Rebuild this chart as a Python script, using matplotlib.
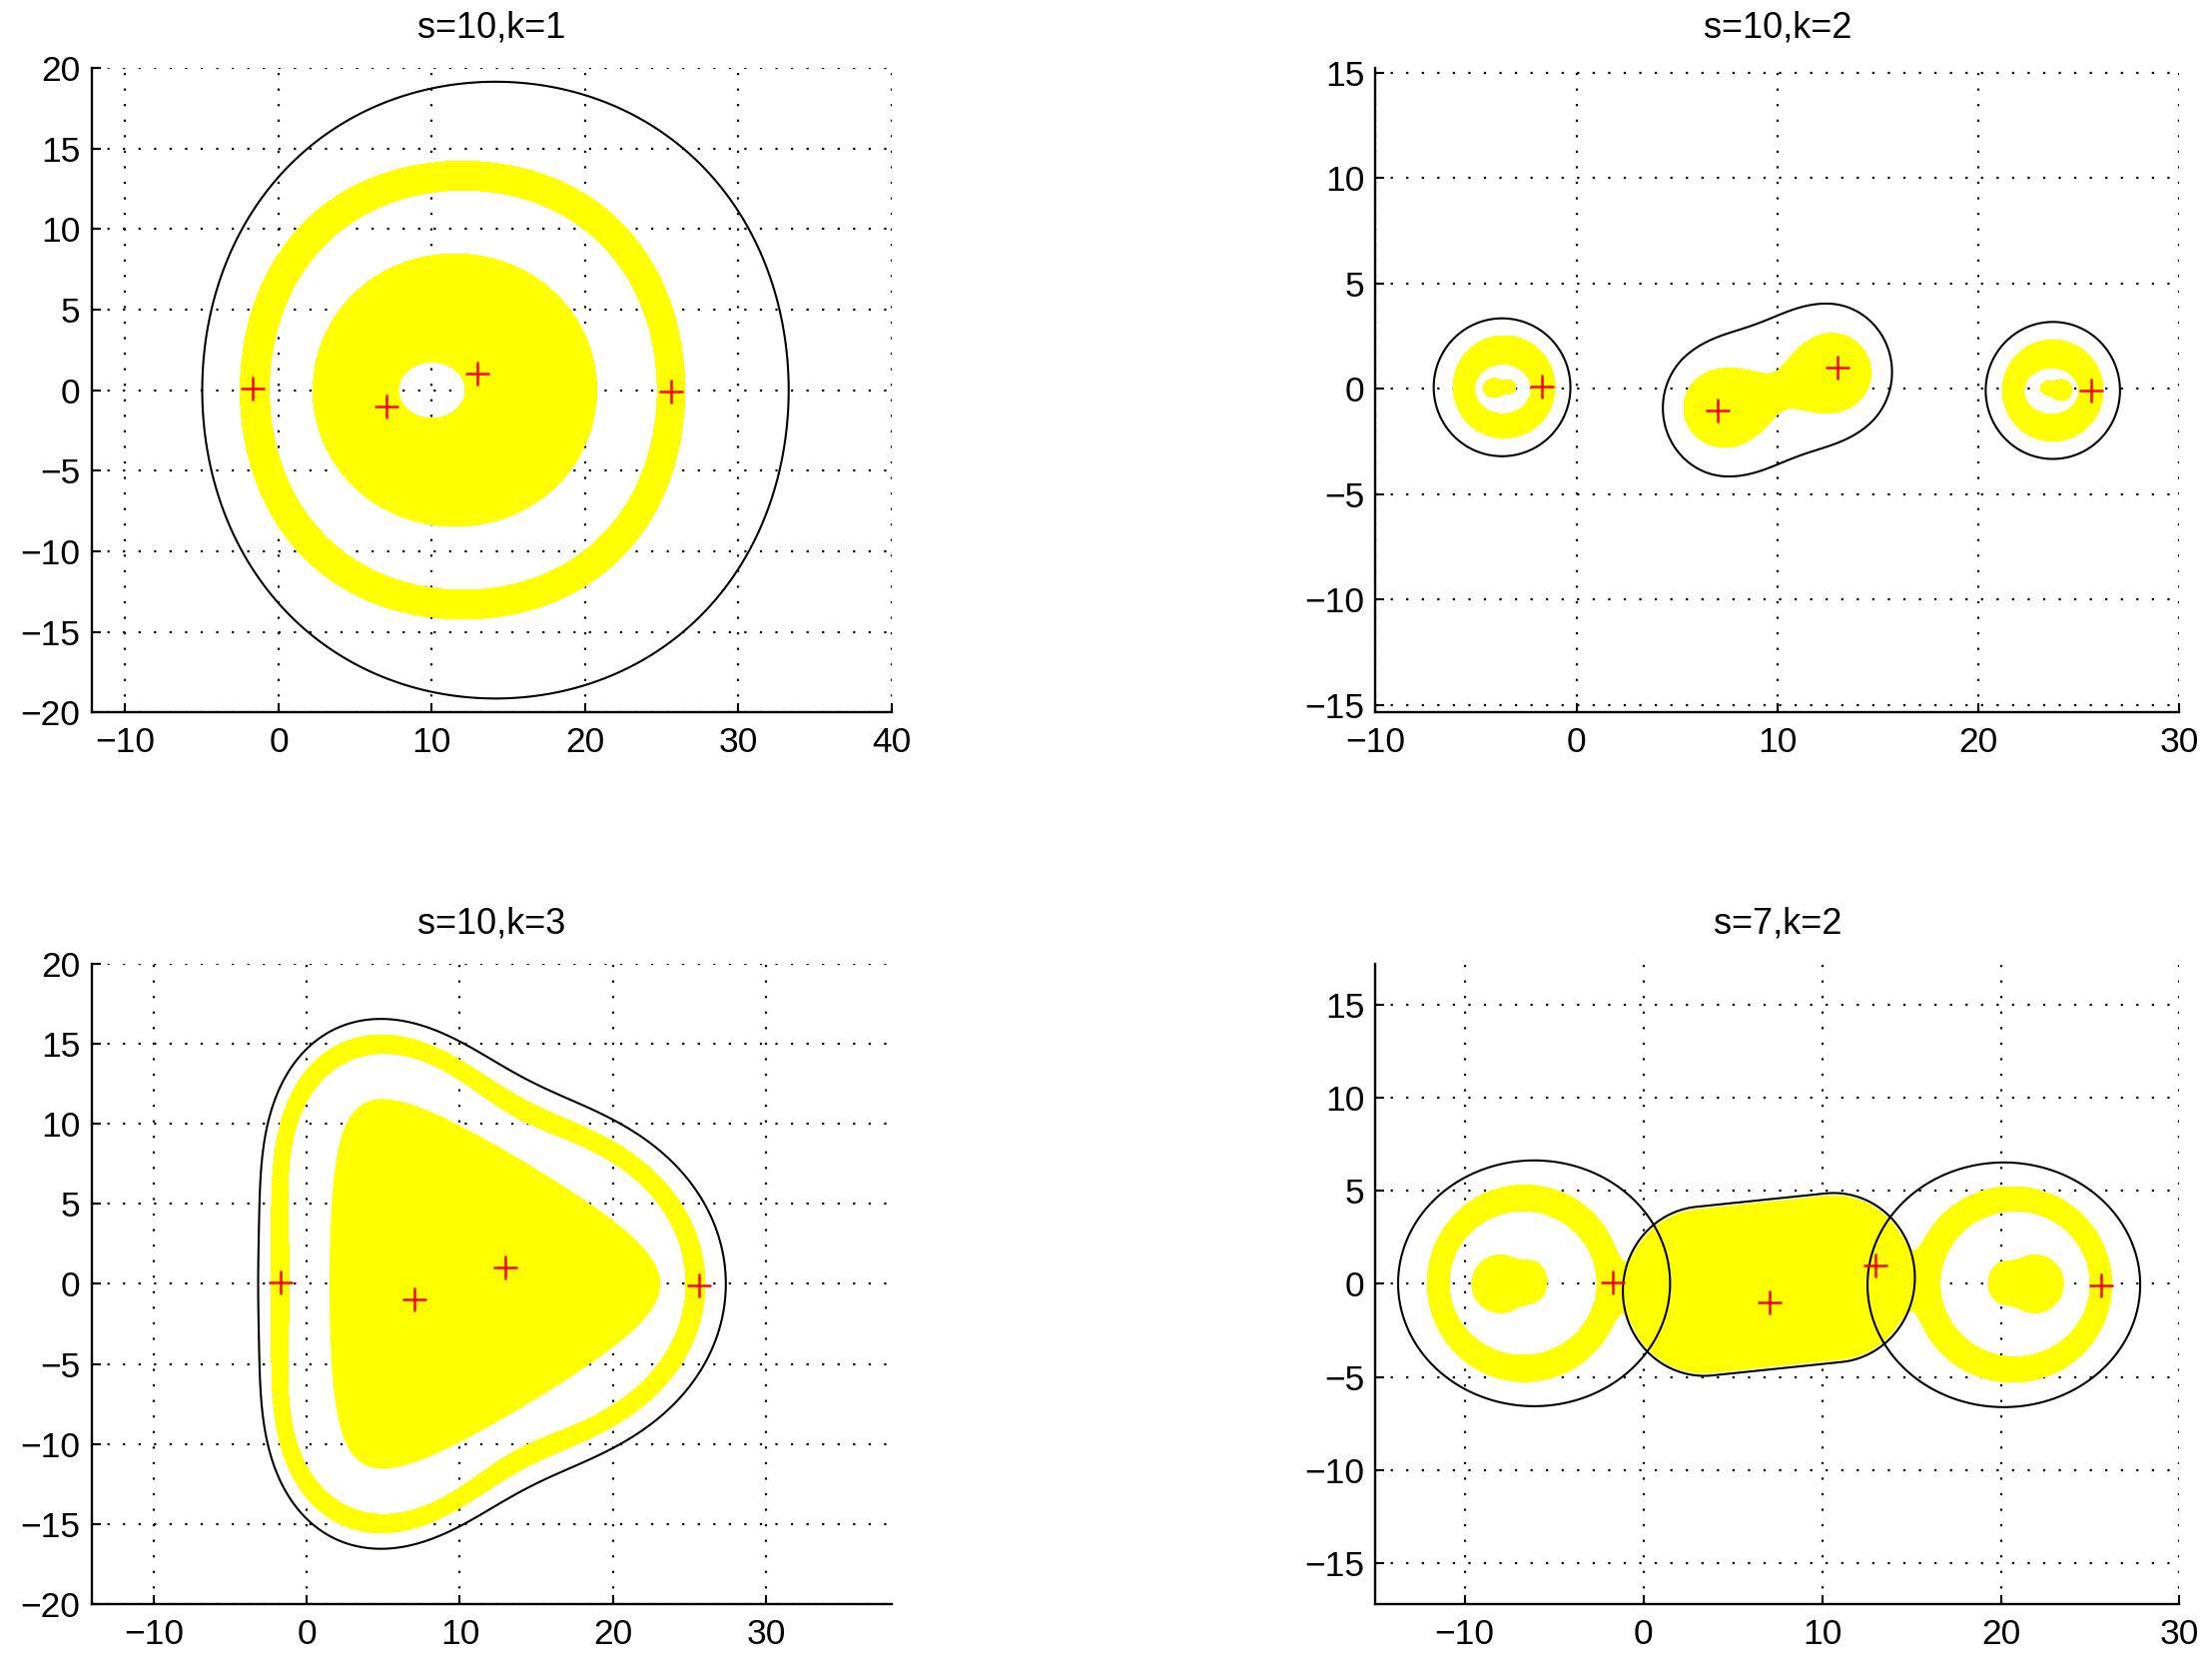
import numpy as np
import matplotlib.pyplot as plt

plt.rcParams['font.family'] = ['Liberation Sans', 'DejaVu Sans']

# ---- data ----
eig_re = [-1.7, 7.05, 13.0, 25.6]
eig_im = [0.1, -1.0, 1.0, -0.08]

titles = ['s=10,k=1', 's=10,k=2', 's=10,k=3', 's=7,k=2']
xlims = [(-12.2, 40), (-10, 30), (-14.05, 38.2), (-15, 30)]
ylims = [(-20, 20), (-15.35, 15.24), (-20, 20), (-17.2, 17.2)]
xticks = [np.arange(-10, 41, 10), np.arange(-10, 31, 10),
          np.arange(-10, 31, 10), np.arange(-10, 31, 10)]
yticks = [np.arange(-20, 21, 5), np.arange(-15, 16, 5),
          np.arange(-20, 21, 5), np.arange(-15, 16, 5)]

# shapes: polar = (cx, cy, cos-coefficients), ellipse = (cx, cy, rx, ry),
# capsule = (x1, y1, x2, y2, r)
# s=10, k=1
p1_black = (14.15, 0.0, [19.25, 0, 0, 0, -0.12])
p1_ring_out = (12.0, 0.0, [14.5, 0, 0.15, 0, -0.15])
p1_ring_in = (12.05, 0.0, [12.65, 0, 0.125, 0, -0.12])
p1_disk = (11.5, 0.0, [8.85, 0, 0.4])
p1_hole = (10.0, 0.0, 2.18, 1.75)

# s=10, k=2
p2_black_l = (-3.7, 0.08, 3.4, 3.27)
p2_black_r = (23.7, -0.07, 3.34, 3.25)
p2_black_m = [(7.55, -0.9, 3.25, 3.25), (12.45, 0.8, 3.25, 3.25)]
p2_out_l = (-3.6, 0.1, 2.53, 2.43)
p2_in_l = (-3.66, 0.0, 1.4, 1.18)
p2_blob_l = [(-4.1, 0.05, 0.53, 0.45), (-3.4, 0.1, 0.38, 0.33)]
p2_out_r = (23.7, -0.07, 2.5, 2.4)
p2_in_r = (23.63, -0.1, 1.37, 1.1)
p2_blob_r = [(24.1, -0.05, 0.55, 0.5), (23.45, 0.05, 0.36, 0.32)]
p2_lobes_m = [(7.4, -0.9, 2.06, 1.87), (12.7, 0.77, 1.95, 1.87)]

# s=10, k=3
p3_black = (9.0, 0.0, [15.387, 1.2025, -0.268, 2.167, 0.048, -0.27, 0.103])
p3_ring_out = (9.0, 0.0, [14.287, 0.9375, -0.268, 2.167, 0.048, -0.27, 0.103])
p3_ring_in = (9.0, 0.0, [13.087, 0.9025, -0.268, 2.167, 0.048, -0.27, 0.103])
# inner rounded triangle: centre, radius, second-term ratio, vertical scale
p3_tri = (10.13, 10.8, 0.2, 1.0)

# s=7, k=2
p4_black_l = (-6.12, 0.03, 7.61, 6.6)
p4_black_r = (20.17, -0.05, 7.63, 6.57)
p4_black_m = (3.4, -0.39, 10.64, 0.33, 4.55)
p4_out_l = (-6.65, 0.03, 5.44, 5.28)
p4_in_l = (-6.74, 0.04, 4.14, 3.88)
p4_blob_l = [(-8.0, 0.0, 1.6, 1.55), (-6.4, 0.1, 1.0, 1.15)]
p4_out_r = (20.65, -0.03, 5.55, 5.25)
p4_in_r = (20.8, 0.0, 4.2, 3.92)
p4_blob_r = [(21.9, 0.0, 1.6, 1.55), (20.3, 0.05, 1.0, 1.15)]
p4_mid = (3.4, -0.39, 10.64, 0.33, 4.4)


def ell(X, Y, cx, cy, rx, ry):
    return (np.hypot((X - cx) / rx, (Y - cy) / ry) - 1) * np.sqrt(rx * ry)


def polar(X, Y, cx, cy, coef):
    dx, dy = X - cx, Y - cy
    phi = np.arctan2(dy, dx)
    r = sum(c * np.cos(n * phi) for n, c in enumerate(coef))
    return np.hypot(dx, dy) - r


def capsule(X, Y, x1, y1, x2, y2, r):
    vx, vy = x2 - x1, y2 - y1
    t = np.clip(((X - x1) * vx + (Y - y1) * vy) / (vx * vx + vy * vy), 0, 1)
    return np.hypot(X - x1 - t * vx, Y - y1 - t * vy) - r


def smin(a, b, k):
    h = np.clip(0.5 + 0.5 * (b - a) / k, 0, 1)
    return b * (1 - h) + a * h - k * h * (1 - h)


def ring(X, Y, out, inn, blobs):
    f = np.maximum(ell(X, Y, *out), -ell(X, Y, *inn))
    b = smin(ell(X, Y, *blobs[0]), ell(X, Y, *blobs[1]), 0.3)
    return np.minimum(f, b)


def fields(i, X, Y):
    if i == 0:
        yel = np.minimum(
            np.maximum(polar(X, Y, *p1_ring_out), -polar(X, Y, *p1_ring_in)),
            np.maximum(polar(X, Y, *p1_disk), -ell(X, Y, *p1_hole)))
        blk = [polar(X, Y, *p1_black)]
    elif i == 1:
        mid = smin(ell(X, Y, *p2_lobes_m[0]), ell(X, Y, *p2_lobes_m[1]), 3.7)
        yel = np.minimum(np.minimum(ring(X, Y, p2_out_l, p2_in_l, p2_blob_l),
                                    ring(X, Y, p2_out_r, p2_in_r, p2_blob_r)), mid)
        blk = [ell(X, Y, *p2_black_l), ell(X, Y, *p2_black_r),
               smin(ell(X, Y, *p2_black_m[0]), ell(X, Y, *p2_black_m[1]), 3.8)]
    elif i == 2:
        yel = np.maximum(polar(X, Y, *p3_ring_out), -polar(X, Y, *p3_ring_in))
        blk = [polar(X, Y, *p3_black)]
    else:
        rl = np.maximum(ell(X, Y, *p4_out_l), -ell(X, Y, *p4_in_l))
        rr = np.maximum(ell(X, Y, *p4_out_r), -ell(X, Y, *p4_in_r))
        mid = capsule(X, Y, *p4_mid)
        yel = smin(smin(rl, mid, 1.2), rr, 1.2)
        bl = smin(ell(X, Y, *p4_blob_l[0]), ell(X, Y, *p4_blob_l[1]), 0.6)
        br = smin(ell(X, Y, *p4_blob_r[0]), ell(X, Y, *p4_blob_r[1]), 0.6)
        yel = np.minimum(yel, np.minimum(bl, br))
        blk = [ell(X, Y, *p4_black_l), ell(X, Y, *p4_black_r),
               capsule(X, Y, *p4_black_m)]
    return yel, blk


positions = [
    [0.0414, 0.5718, 0.3617, 0.3875],
    [0.6218, 0.5718, 0.3635, 0.3875],
    [0.0414, 0.0360, 0.3617, 0.3849],
    [0.6218, 0.0360, 0.3635, 0.3849],
]

fig = plt.figure(figsize=(22.15, 16.66), dpi=100)

for i in range(4):
    ax = fig.add_axes(positions[i])
    x = np.linspace(xlims[i][0], xlims[i][1], 1400)
    y = np.linspace(ylims[i][0], ylims[i][1], 1100)
    X, Y = np.meshgrid(x, y)
    yel, blk = fields(i, X, Y)

    ax.contourf(X, Y, yel, levels=[yel.min() - 1, 0], colors=['#ffff00'],
                zorder=1)
    if i == 2:
        c, R, beta, sy = p3_tri
        th = np.linspace(0, 2 * np.pi, 721)
        z = R * np.exp(1j * th) + beta * R * np.exp(-2j * th)
        ax.fill(c + z.real, sy * z.imag, color='#ffff00', lw=0, zorder=1)
    for f in blk:
        ax.contour(X, Y, f, levels=[0], colors='k', linewidths=1.5, zorder=2)
    ax.plot(eig_re, eig_im, '+', color='#ff0000', ms=17, mew=1.8, zorder=3)

    ax.set_xlim(*xlims[i])
    ax.set_ylim(*ylims[i])
    ax.set_xticks(xticks[i])
    ax.set_yticks(yticks[i])
    ax.set_axisbelow(True)
    ax.grid(True, color='k', linestyle=(0, (1, 6)), linewidth=1.6)
    for side in ['top', 'right']:
        ax.spines[side].set_visible(False)
    for side in ['left', 'bottom']:
        ax.spines[side].set_linewidth(1.7)
    ax.tick_params(direction='in', length=6.5, width=1.5, labelsize=25.5,
                   top=False, right=False)
    ax.tick_params(axis='x', pad=10)
    ax.tick_params(axis='y', pad=8)
    ax.set_title(titles[i], fontsize=26, pad=22)

fig.savefig('out.png', dpi=100, facecolor='white')
